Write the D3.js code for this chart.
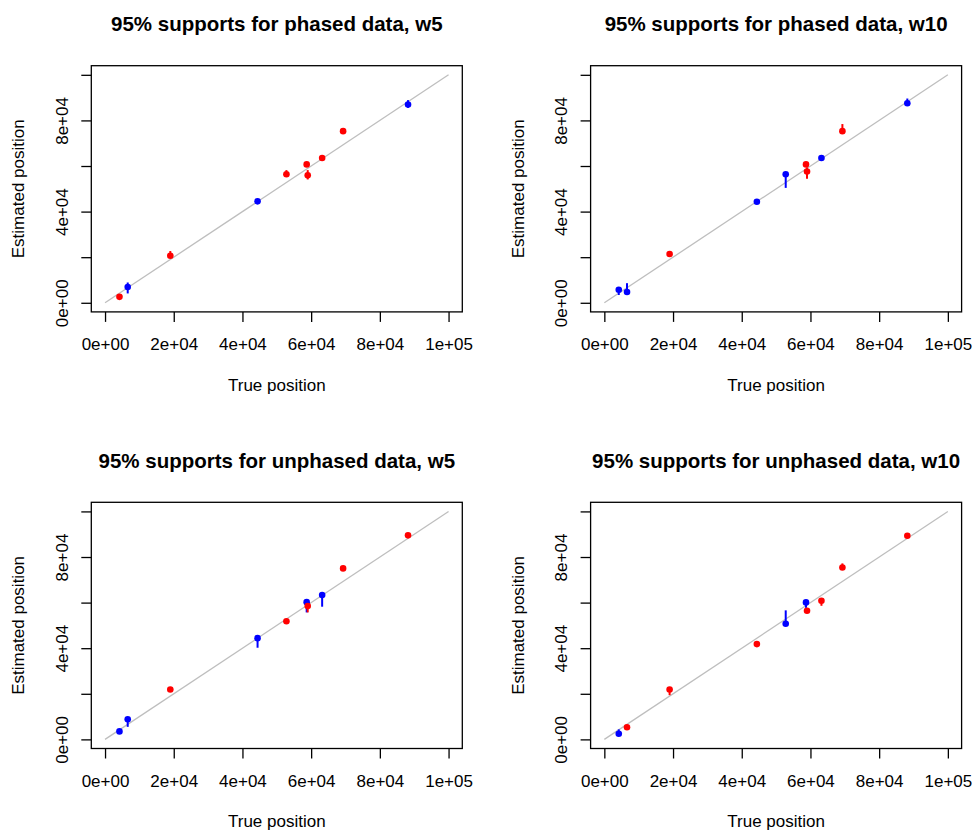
<!DOCTYPE html>
<html>
<head>
<meta charset="utf-8">
<script src="https://cdn.jsdelivr.net/npm/d3@7"></script>
<style>
  body { margin: 0; background: #fff; }
  svg text { font-family: "Liberation Sans", Arial, sans-serif; fill: #000; }
</style>
</head>
<body>
<div id="chart"></div>
<script>
// true positions, shared by all four panels
var truePos = [4200, 6600, 19000, 44400, 52800, 58700, 59000, 63200, 69300, 88200];

// phased, w5
var phasedW5Est = [2600, 6900, 20600, 44500, 56400, 60700, 55900, 63500, 75300, 87000];
var phasedW5Lo  = [2200, 4100, 20200, 44100, 56000, 60300, 54100, 63100, 74900, 85500];
var phasedW5Hi  = [3000, 8900, 22700, 44900, 58200, 61100, 58200, 63900, 75700, 88900];
var phasedW5Col = ['r', 'b', 'r', 'b', 'r', 'r', 'r', 'r', 'r', 'b'];

// phased, w10
var phasedW10Est = [5700, 4700, 21400, 44300, 56400, 60700, 57600, 63500, 75300, 87500];
var phasedW10Lo  = [3400, 4300, 21000, 43900, 50400, 60300, 54400, 63100, 74900, 87100];
var phasedW10Hi  = [6100, 8600, 21800, 44700, 56800, 61100, 59400, 63900, 78400, 89600];
var phasedW10Col = ['b', 'b', 'r', 'b', 'b', 'r', 'r', 'b', 'r', 'b'];

// unphased, w5
var unphasedW5Est = [3500, 8800, 21900, 44400, 51800, 60200, 58500, 63300, 75000, 89500];
var unphasedW5Lo  = [3100, 5500, 21500, 40200, 51400, 55700, 55700, 58200, 74600, 89100];
var unphasedW5Hi  = [3900, 9200, 22300, 44800, 52200, 60600, 58900, 63700, 75400, 89900];
var unphasedW5Col = ['b', 'b', 'r', 'b', 'r', 'b', 'r', 'b', 'r', 'r'];

// unphased, w10
var unphasedW10Est = [2500, 5300, 21900, 41800, 50700, 60100, 56400, 60800, 75400, 89300];
var unphasedW10Lo  = [2100, 4900, 19400, 41400, 50300, 57700, 56000, 58600, 75000, 88900];
var unphasedW10Hi  = [4400, 5700, 22300, 42200, 56600, 60500, 56800, 61200, 77200, 89700];
var unphasedW10Col = ['b', 'r', 'r', 'r', 'b', 'b', 'r', 'r', 'r', 'r'];

var panelTitles = [
	"95% supports for phased data, w5",
	"95% supports for phased data, w10",
	"95% supports for unphased data, w5",
	"95% supports for unphased data, w10"
];
var tickValues = [0, 20000, 40000, 60000, 80000, 100000];
var xTickLabels = ["0e+00", "2e+04", "4e+04", "6e+04", "8e+04", "1e+05"];
var yTickLabels = ["0e+00", "", "4e+04", "", "8e+04", ""];
var xTitle = "True position";
var yTitle = "Estimated position";

var panels = [
	{est: phasedW5Est, lo: phasedW5Lo, hi: phasedW5Hi, col: phasedW5Col},
	{est: phasedW10Est, lo: phasedW10Lo, hi: phasedW10Hi, col: phasedW10Col},
	{est: unphasedW5Est, lo: unphasedW5Lo, hi: unphasedW5Hi, col: unphasedW5Col},
	{est: unphasedW10Est, lo: unphasedW10Lo, hi: unphasedW10Hi, col: unphasedW10Col}
];
var colours = {r: '#ff0000', b: '#0000ff'};

var W = 974, H = 832;
var svg = d3.select('#chart').append('svg')
	.attr('width', W)
	.attr('height', H);

// plot box of the first panel, others are shifted
var box = {left: 91.3, top: 65.7, width: 371, height: 246.2};
var shiftX = [0, 499.3], shiftY = [0, 436.6];

var x = d3.scaleLinear().domain([-4000, 104000]).range([0, box.width]);
var y = d3.scaleLinear().domain([-4000, 104000]).range([box.height, 0]);

panels.forEach(function(p, i){
	var ox = shiftX[i % 2], oy = shiftY[Math.floor(i / 2)];
	var g = svg.append('g')
		.attr('transform', 'translate(' + (box.left + ox) + ',' + (box.top + oy) + ')');

	// diagonal reference line
	g.append('line')
		.attr('x1', x(0)).attr('y1', y(0))
		.attr('x2', x(100000)).attr('y2', y(100000))
		.attr('stroke', '#bebebe')
		.attr('stroke-width', 1.3);

	// support bars
	g.selectAll('line.bar')
		.data(truePos)
		.enter()
		.append('line')
		.attr('class', 'bar')
		.attr('x1', function(d){ return x(d); })
		.attr('x2', function(d){ return x(d); })
		.attr('y1', function(d, k){ return y(p.lo[k]); })
		.attr('y2', function(d, k){ return y(p.hi[k]); })
		.attr('stroke', function(d, k){ return colours[p.col[k]]; })
		.attr('stroke-width', 2);

	// estimates
	g.selectAll('circle')
		.data(truePos)
		.enter()
		.append('circle')
		.attr('cx', function(d){ return x(d); })
		.attr('cy', function(d, k){ return y(p.est[k]); })
		.attr('r', 3.3)
		.attr('fill', function(d, k){ return colours[p.col[k]]; });

	// x axis
	var xa = g.append('g')
		.attr('transform', 'translate(0,' + box.height + ')')
		.call(d3.axisBottom(x).tickValues(tickValues).tickSize(10).tickSizeOuter(0)
			.tickFormat(function(d, k){ return xTickLabels[k]; }));
	xa.select('.domain').remove();
	xa.selectAll('.tick line').attr('stroke', '#000').attr('stroke-width', 1.3);
	xa.selectAll('.tick text')
		.attr('y', 38).attr('dy', 0)
		.style('font-size', '17px')
		.style('font-family', '"Liberation Sans", Arial, sans-serif');

	// y axis
	var ya = g.append('g')
		.call(d3.axisLeft(y).tickValues(tickValues).tickSize(10).tickSizeOuter(0)
			.tickFormat(function(d, k){ return yTickLabels[k]; }));
	ya.select('.domain').remove();
	ya.selectAll('.tick line').attr('stroke', '#000').attr('stroke-width', 1.3);
	ya.selectAll('.tick text')
		.attr('x', 0).attr('y', 0).attr('dy', 0)
		.attr('text-anchor', 'middle')
		.attr('transform', 'translate(-23.3,0) rotate(-90)')
		.style('font-size', '17px')
		.style('font-family', '"Liberation Sans", Arial, sans-serif');

	// box
	g.append('rect')
		.attr('width', box.width)
		.attr('height', box.height)
		.attr('fill', 'none')
		.attr('stroke', '#000')
		.attr('stroke-width', 1.3);

	// titles
	g.append('text')
		.attr('x', box.width / 2)
		.attr('y', 31 - box.top)
		.attr('text-anchor', 'middle')
		.style('font-size', '20.5px')
		.style('font-weight', 'bold')
		.text(panelTitles[i]);

	g.append('text')
		.attr('x', box.width / 2)
		.attr('y', 390.7 - box.top)
		.attr('text-anchor', 'middle')
		.style('font-size', '17px')
		.text(xTitle);

	g.append('text')
		.attr('transform', 'translate(' + (24.3 - box.left) + ',' + (box.height / 2) + ') rotate(-90)')
		.attr('text-anchor', 'middle')
		.style('font-size', '17px')
		.text(yTitle);
});
</script>
</body>
</html>
